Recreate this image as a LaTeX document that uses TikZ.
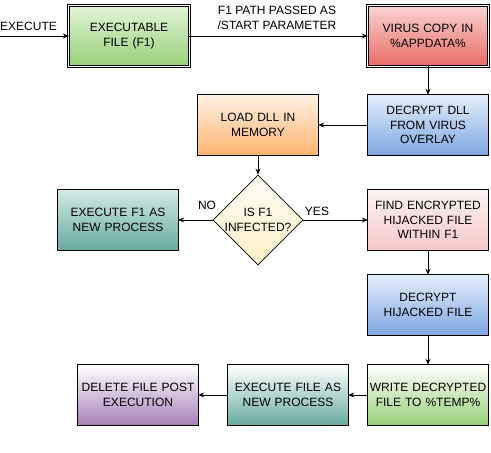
\documentclass[tikz,border=0pt]{standalone}
\usepackage{fontspec}
\setmainfont{Liberation Sans}
\usetikzlibrary{shapes.geometric,arrows.meta}
\definecolor{grnTop}{HTML}{E2F4D9}
\definecolor{grnBot}{HTML}{97D077}
\definecolor{redTop}{HTML}{F8D3D1}
\definecolor{redBot}{HTML}{EA6B66}
\definecolor{bluTop}{HTML}{E4EEFC}
\definecolor{bluBot}{HTML}{7EA6E0}
\definecolor{orgTop}{HTML}{FFF1E4}
\definecolor{orgBot}{HTML}{FFB570}
\definecolor{tlTop}{HTML}{D2EAE5}
\definecolor{tlBot}{HTML}{67AB9F}
\definecolor{ylwTop}{HTML}{FFFDF6}
\definecolor{ylwBot}{HTML}{FCEFC6}
\definecolor{pnkTop}{HTML}{FDF4F4}
\definecolor{pnkBot}{HTML}{F6C8C7}
\definecolor{prpBot}{HTML}{A680B8}
\tikzset{
  stepbox/.style={rectangle, minimum width=120pt, minimum height=60pt,
    inner sep=0pt, text width=118pt, align=center, font=\fontsize{12}{14.4}\selectfont},
  boxline/.style={line width=1pt},
  dblline/.style={line width=0.8pt, double=white, double distance=1.2pt},
  decision/.style={diamond, draw=black, line width=0.8pt, aspect=1, minimum width=90pt, minimum height=90pt,
    inner sep=0pt, align=center, font=\fontsize{12}{14.4}\selectfont,
    top color=ylwTop, bottom color=ylwBot},
  flow/.style={line width=1pt, -{Stealth[length=6pt,width=5pt]}},
  lbl/.style={inner sep=0pt, align=center, font=\fontsize{12}{14.4}\selectfont},
}

\begin{document}
\begin{tikzpicture}[x=1pt,y=-1pt]
        \useasboundingbox (0,0) rectangle (491,453);
        % top row
        \coordinate (start) at (0,36);
        \node[stepbox, top color=grnTop, bottom color=grnBot] (exe) at (129,36) {EXECUTABLE\\FILE (F1)};
        \node[stepbox, top color=redTop, bottom color=redBot] (virus) at (428,36) {VIRUS COPY IN\\\%APPDATA\%};
        % dll
        \node[stepbox, top color=bluTop, bottom color=bluBot] (decdll) at (428,125) {DECRYPT DLL\\FROM VIRUS\\OVERLAY};
        \node[stepbox, top color=orgTop, bottom color=orgBot] (loaddll) at (258,125) {LOAD DLL IN\\MEMORY};
        % decision
        \node[decision] (infected) at (258,220) {IS F1\\INFECTED?};
        \node[stepbox, top color=tlTop, bottom color=tlBot] (runf1) at (118,220) {EXECUTE F1 AS\\NEW PROCESS};
        \node[stepbox, top color=pnkTop, bottom color=pnkBot] (find) at (428,220) {FIND ENCRYPTED\\HIJACKED FILE\\WITHIN F1};
        \node[stepbox, top color=bluTop, bottom color=bluBot] (dechij) at (428,305) {DECRYPT\\HIJACKED FILE};
        % bottom row
        \node[stepbox, top color=white, bottom color=grnBot] (write) at (428,395) {WRITE DECRYPTED\\FILE TO \%TEMP\%};
        \node[stepbox, top color=white, bottom color=tlBot] (runfile) at (288,395) {EXECUTE FILE AS\\NEW PROCESS};
        \node[stepbox, top color=white, bottom color=prpBot] (delete) at (138,395) {DELETE FILE POST\\EXECUTION};

        % box outlines
        \foreach \b in {exe,virus}{
          \draw[dblline] (\b.north west) rectangle (\b.south east);
        }
        \foreach \b in {decdll,loaddll,runf1,find,dechij,write,runfile,delete}{
          \draw[boxline] (\b.north west) rectangle (\b.south east);
        }

        % connectors
        \draw[flow] (start) -- (exe);
        \node[lbl, anchor=south west] (execlbl) at (0,31) {EXECUTE};
        \draw[flow] (exe) -- (virus);
        \node[lbl] (pathlbl) at (277,18) {F1 PATH PASSED AS\\/START PARAMETER};
        \draw[flow] (virus) -- (decdll);
        \draw[flow] (decdll) -- (loaddll);
        \draw[flow] (loaddll) -- (infected);
        \draw[flow] (infected) -- (runf1);
        \node[lbl] (nolbl) at (207,205) {NO};
        \draw[flow] (infected) -- (find);
        \node[lbl] (yeslbl) at (317,211) {YES};
        \draw[flow] (find) -- (dechij);
        \draw[flow] (dechij) -- (write);
        \draw[flow] (write) -- (runfile);
        \draw[flow] (runfile) -- (delete);
    \end{tikzpicture}
\end{document}
